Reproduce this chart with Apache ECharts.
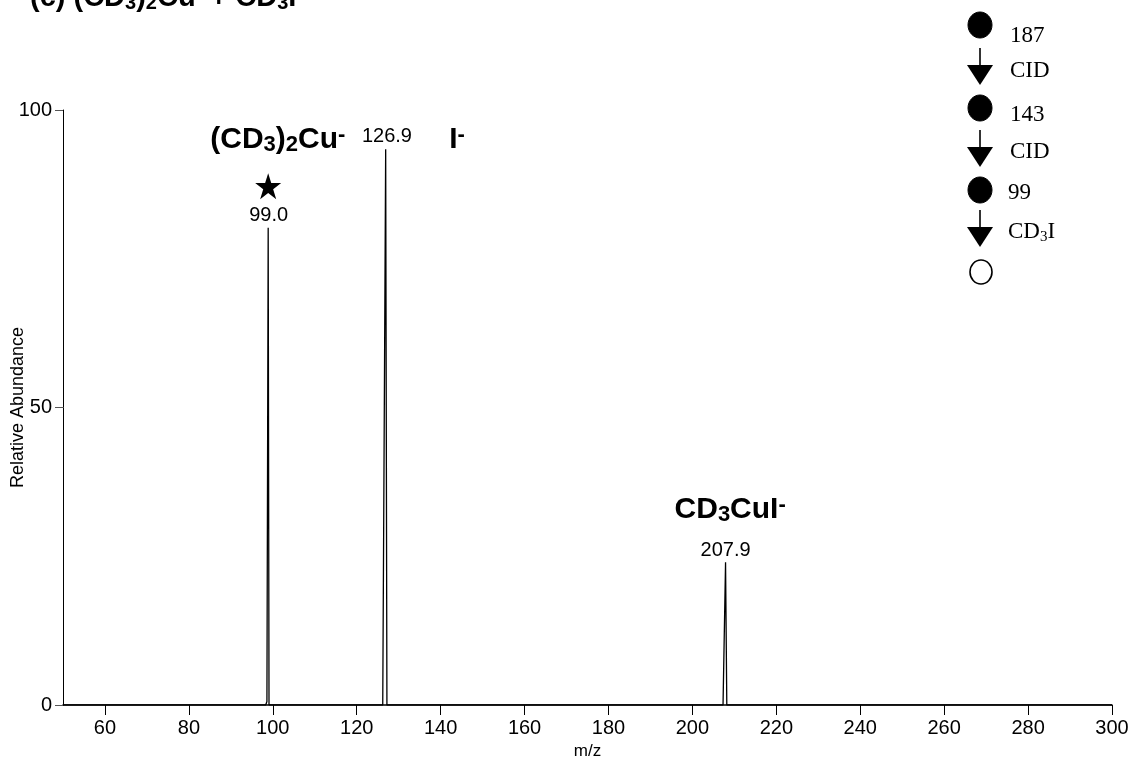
<!DOCTYPE html>
<html>
<head>
<meta charset="utf-8">
<script src="https://cdn.jsdelivr.net/npm/echarts@6/dist/echarts.min.js"></script>
<style>
html,body{margin:0;padding:0;background:#fff;}
#chart{width:1135px;height:765px;}
</style>
</head>
<body>
<div id="chart"></div>
<script>
// ---- data ----
const mzValues        = [50, 98.3, 98.6, 98.9, 99.1, 99.4, 126.2, 126.6, 126.9, 127.2, 127.5, 207.3, 207.6, 207.9, 208.2, 300];
const abundanceValues = [0,  0,    0.6,  80.2, 0,    0,    0,     0,     93.4,  0,     0,     0,     0,     24.0,  0,     0];
const xTickValues = [60, 80, 100, 120, 140, 160, 180, 200, 220, 240, 260, 280, 300];
const yTickValues = [0, 50, 100];
const peakLabels = [
  {mz: 99.0,  y: 82.2, text: '99.0'},
  {mz: 127.2, y: 95.5, text: '126.9'},
  {mz: 207.9, y: 25.9, text: '207.9'}
];
const ionLabels = [
  {mz: 101.2, y: 95.0, text: '{b|(CD}{s|3}{b|)}{s|2}{b|Cu}{p|-}'},
  {mz: 143.9, y: 95.0, text: '{b|I}{p|-}'},
  {mz: 209.0, y: 32.8, text: '{b|CD}{s|3}{b|CuI}{p|-}'}
];
const starPoints = [[98.9, 87.2]];
const schemeSteps = ['187', 'CID', '143', 'CID', '99', 'CD3I'];

const chart = echarts.init(document.getElementById('chart'), null, {renderer: 'canvas'});

const boldRich = {
  b: {fontFamily: 'Liberation Sans', fontWeight: 'bold', fontSize: 30, color: '#000', lineHeight: 32, verticalAlign: 'middle'},
  s: {fontFamily: 'Liberation Sans', fontWeight: 'bold', fontSize: 22, color: '#000', lineHeight: 18, verticalAlign: 'bottom'},
  p: {fontFamily: 'Liberation Sans', fontWeight: 'bold', fontSize: 22, color: '#000', lineHeight: 18, verticalAlign: 'top'}
};

const serif = 'Liberation Serif';
const schemeGraphics = [];
const cx = 980;
const circleY = [25, 108, 190];
circleY.forEach(function (cy) {
  schemeGraphics.push({type: 'ellipse', shape: {cx: cx, cy: cy, rx: 12, ry: 13}, style: {fill: '#000', stroke: '#000'}});
});
schemeGraphics.push({type: 'ellipse', shape: {cx: cx + 1, cy: 272, rx: 11, ry: 12}, style: {fill: '#fff', stroke: '#000', lineWidth: 1.6}});
const arrowTops = [48, 130, 210];
arrowTops.forEach(function (ty) {
  schemeGraphics.push({type: 'line', shape: {x1: cx, y1: ty, x2: cx, y2: ty + 18}, style: {stroke: '#000', lineWidth: 1.6}});
  schemeGraphics.push({type: 'polygon', shape: {points: [[cx - 13, ty + 17], [cx + 13, ty + 17], [cx, ty + 37]]}, style: {fill: '#000'}});
});
const textY = [36, 71, 115, 152, 193, 232];
schemeSteps.forEach(function (t, i) {
  let txt;
  const rich = {n: {fontFamily: serif, fontSize: 23, color: '#000', lineHeight: 26},
                s: {fontFamily: serif, fontSize: 15, color: '#000', verticalAlign: 'bottom', lineHeight: 10}};
  if (t === 'CD3I') txt = '{n|CD}{s|3}{n|I}'; else txt = '{n|' + t + '}';
  schemeGraphics.push({type: 'text', x: (i === 4 || i === 5) ? 1008 : 1010, y: textY[i],
    style: {text: txt, rich: rich, verticalAlign: 'middle', align: 'left'}});
});

// title (partially cut off at the top edge)
schemeGraphics.push({type: 'text', x: 30, y: -17,
  style: {
    text: '{b|(c) (CD}{s|3}{b|)}{s|2}{b|Cu}{p|-}{b| + CD}{s|3}{b|I}',
    rich: {
      b: {fontFamily: 'Liberation Sans', fontWeight: 'bold', fontSize: 29, color: '#000', lineHeight: 30},
      s: {fontFamily: 'Liberation Sans', fontWeight: 'bold', fontSize: 20, color: '#000', lineHeight: 17, verticalAlign: 'bottom'},
      p: {fontFamily: 'Liberation Sans', fontWeight: 'bold', fontSize: 20, color: '#000', lineHeight: 17, verticalAlign: 'top'}
    },
    align: 'left', verticalAlign: 'top'
  }});

const option = {
  animation: false,
  backgroundColor: '#fff',
  grid: {left: 63, right: 23, top: 110, bottom: 60, containLabel: false, outerBoundsMode: 'none'},
  xAxis: {
    type: 'value', min: 50, max: 300,
    name: 'm/z', nameLocation: 'middle', nameGap: 38, nameMoveOverlap: false,
    nameTextStyle: {fontFamily: 'Liberation Sans', fontSize: 17, color: '#000'},
    axisLine: {show: true, onZero: false, lineStyle: {color: '#000', width: 1.5}},
    axisTick: {show: true, inside: false, length: 10, lineStyle: {color: '#000', width: 1}, customValues: xTickValues},
    axisLabel: {show: true, margin: 13, fontFamily: 'Liberation Sans', fontSize: 20, color: '#000', customValues: xTickValues},
    splitLine: {show: false}
  },
  yAxis: {
    type: 'value', min: 0, max: 100, interval: 50,
    name: 'Relative Abundance', nameLocation: 'middle', nameGap: 36, nameMoveOverlap: false,
    nameTextStyle: {fontFamily: 'Liberation Sans', fontSize: 18, color: '#000'},
    axisLine: {show: true, lineStyle: {color: '#000', width: 1}},
    axisTick: {show: true, length: 8, lineStyle: {color: '#555', width: 1}, customValues: yTickValues},
    axisLabel: {show: true, margin: 11, fontFamily: 'Liberation Sans', fontSize: 20, color: '#000', customValues: yTickValues},
    splitLine: {show: false}
  },
  graphic: schemeGraphics,
  series: [
    {
      type: 'line',
      data: mzValues.map(function (m, i) { return [m, abundanceValues[i]]; }),
      symbol: 'none',
      lineStyle: {color: '#000', width: 1.3},
      silent: true
    },
    {
      type: 'scatter',
      data: peakLabels.map(function (p) { return {value: [p.mz, p.y], label: {formatter: p.text}}; }),
      symbolSize: 2,
      itemStyle: {color: 'rgba(0,0,0,0)', opacity: 1},
      label: {show: true, position: 'inside', fontFamily: 'Liberation Sans', fontSize: 20, color: '#000'},
      labelLayout: {hideOverlap: false},
      silent: true
    },
    {
      type: 'scatter',
      data: ionLabels.map(function (p) { return {value: [p.mz, p.y], label: {formatter: p.text}}; }),
      symbolSize: 2,
      itemStyle: {color: 'rgba(0,0,0,0)', opacity: 1},
      label: {show: true, position: 'inside', rich: boldRich},
      labelLayout: {hideOverlap: false},
      silent: true
    },
    {
      type: 'scatter',
      data: starPoints,
      symbol: 'path://M50,0 L61.2,34.5 L97.6,34.5 L68.2,55.9 L79.4,90.5 L50,69.1 L20.6,90.5 L31.8,55.9 L2.4,34.5 L38.8,34.5 Z',
      symbolSize: 26,
      itemStyle: {color: '#000', opacity: 1},
      silent: true
    }
  ]
};
chart.setOption(option);
</script>
</body>
</html>
